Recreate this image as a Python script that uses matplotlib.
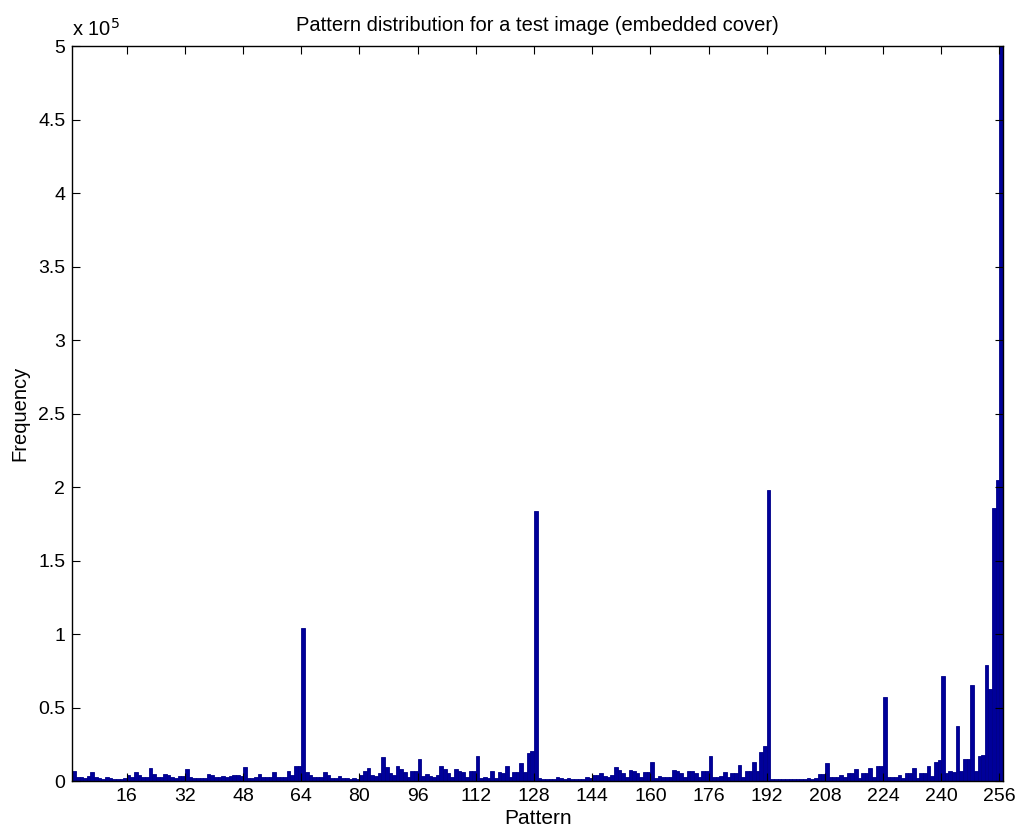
import numpy as np
import matplotlib
matplotlib.use('Agg')
import matplotlib.pyplot as plt
from matplotlib.ticker import FuncFormatter

plt.rcParams['font.family'] = ['Liberation Sans', 'DejaVu Sans']

# pattern index 1..256 and the count read for each one
patterns = np.arange(1, 257)
freq = [
    6500, 3000, 2500, 2000, 3500, 6000, 3000, 2000, 1500, 3000, 2000, 1500, 1500, 1500, 2000, 4000,
    3000, 6000, 4000, 2500, 3000, 9000, 5000, 3000, 2500, 5000, 4000, 2500, 2000, 3500, 3500, 8000,
    2500, 2000, 2000, 2000, 2000, 5000, 4000, 2500, 2500, 3500, 2500, 3400, 4100, 4100, 3400, 9500,
    1800, 1800, 2500, 5000, 2500, 2500, 3000, 6300, 2900, 2900, 3000, 7000, 4000, 10000, 10500, 104000,
    6000, 4000, 2500, 2500, 3000, 6000, 4000, 2000, 2000, 3400, 1800, 1800, 1500, 1800, 1500, 4000,
    6500, 9000, 4000, 3400, 5500, 16500, 9500, 5800, 4000, 10000, 8000, 6300, 2500, 7000, 7000, 14700,
    3400, 5000, 3500, 2900, 4000, 10500, 8000, 5800, 2500, 8000, 7000, 6300, 2500, 7000, 7000, 17000,
    1800, 2900, 2300, 6600, 2300, 6000, 5800, 10000, 2500, 6300, 6300, 12500, 6300, 19000, 20500, 184000,
    2000, 1500, 1200, 1500, 1500, 3000, 2000, 1500, 2000, 1500, 1200, 1500, 1500, 2500, 1800, 4000,
    4000, 5200, 3400, 2900, 4000, 9500, 7500, 5200, 2500, 7500, 7000, 5800, 2500, 6300, 6300, 13000,
    1800, 3400, 2500, 2500, 2500, 7500, 7000, 5200, 2500, 7000, 6600, 5500, 2500, 6600, 7000, 17000,
    2900, 2500, 3400, 6300, 2500, 5800, 5800, 10800, 2900, 6600, 6600, 13000, 6600, 20000, 23500, 198000,
    1500, 1200, 1500, 1200, 1500, 1500, 1200, 1500, 1200, 1500, 1800, 1500, 1800, 4500, 4500, 12500,
    2500, 2500, 2900, 4000, 2500, 5500, 5200, 8000, 1800, 5200, 5200, 8600, 2900, 10200, 10200, 57000,
    2500, 2900, 2900, 4000, 2300, 5500, 5500, 8600, 1800, 5800, 5800, 10200, 3600, 13100, 14300, 71500,
    5800, 7000, 6300, 37500, 7000, 15000, 14700, 65500, 7000, 17200, 17600, 79000, 62500, 186000, 205000, 650000,
]
xticks = list(range(16, 257, 16))
yticks = [0, 50000, 100000, 150000, 200000, 250000, 300000, 350000, 400000, 450000, 500000]

fig = plt.figure(figsize=(10.28, 8.4), dpi=100)
ax = fig.add_axes([0.0703, 0.0702, 0.9054, 0.8750])
ax.bar(patterns, freq, width=1, align='edge', color='#00009a', edgecolor='#000088', linewidth=0.6)

ax.set_xlim(1, 257)
ax.set_ylim(0, 500000)
ax.set_xticks(xticks)
ax.set_yticks(yticks)
ax.yaxis.set_major_formatter(FuncFormatter(lambda v, p: '%g' % (v / 1e5)))
ax.tick_params(direction='in', top=True, right=True, length=6, labelsize=14, pad=5)
for s in ax.spines.values():
    s.set_linewidth(1.0)

ax.text(0.0, 1.008, r'x 10$^{5}$', transform=ax.transAxes, fontsize=14.5, ha='left', va='bottom')
ax.set_title('Pattern distribution for a test image (embedded cover)', fontsize=14.5, pad=11)
ax.set_xlabel('Pattern', fontsize=15, labelpad=3)
ax.set_ylabel('Frequency', fontsize=14.5, labelpad=6)

fig.savefig('out.png', dpi=100)
